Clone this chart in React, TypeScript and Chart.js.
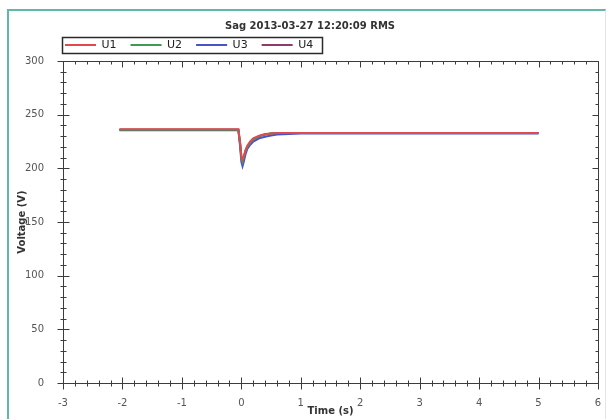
import React, { useEffect, useRef } from "react";
import { Chart, registerables } from "chart.js";

Chart.register(...registerables);

const chartTitle = "Sag 2013-03-27 12:20:09 RMS";
const seriesNames = ["U1", "U2", "U3", "U4"];
const seriesColors = ["#e04a4f", "#3f9a55", "#4a52c8", "#8e3a6c"];

const timeS = [-2.05, -1.5, -1.0, -0.5, -0.05, -0.02, 0.0, 0.02, 0.04, 0.07, 0.1, 0.15, 0.2, 0.3, 0.4, 0.5, 0.6, 1.0, 2.0, 3.0, 4.0, 5.0];
const u1 = [236.5, 236.5, 236.5, 236.5, 236.5, 224, 212, 208, 211, 217, 221, 225, 228, 230.5, 232, 232.5, 233, 233, 233, 233, 233, 233];
const u2 = [236, 236, 236, 236, 236, 222, 210, 206, 210, 216, 220, 224, 227, 230, 231.5, 232.5, 233, 233, 233, 233, 233, 233];
const u3 = [235.5, 235.5, 235.5, 235.5, 235.5, 220, 206, 202, 206, 213, 218, 222, 225, 228, 229.5, 230.5, 231.5, 232.5, 232.5, 232.5, 232.5, 232.5];
const u4 = [236, 236, 236, 236, 236, 223, 211, 207, 210, 216, 220, 224, 227, 230, 231.5, 232.5, 233, 233, 233, 233, 233, 233];
const seriesValues = [u1, u2, u3, u4];

const xMin = -3;
const xMax = 6;
const xMajorStep = 1;
const xMinorStep = 0.2;
const yMin = 0;
const yMax = 300;
const yMajorStep = 50;
const yMinorStep = 10;

const FONT = "'DejaVu Sans', Verdana, sans-serif";

const placePlugin = {
  id: "placeBlocks",
  afterLayout(chart: any) {
    const t = chart.titleBlock;
    if (t) {
      t.left = 10;
      t.right = 610;
    }
    const lg = chart.legend;
    if (lg) {
      const h = lg.bottom - lg.top;
      lg.left = 51;
      lg.right = 600;
      lg.top = 25.5;
      lg.bottom = 25.5 + Math.max(h, 36);
    }
  },
};

const framePlugin = {
  id: "axisFrame",
  afterDraw(chart: any) {
    const { ctx, chartArea, scales } = chart;
    const { left, right, top, bottom } = chartArea;
    const xs = scales.x;
    const ys = scales.y;
    ctx.save();
    ctx.strokeStyle = "#3c3c3c";
    ctx.lineWidth = 1;
    const L = Math.round(left) + 0.5;
    const R = Math.round(right) + 0.5;
    const T = Math.round(top) + 0.5;
    const B = Math.round(bottom) + 0.5;
    ctx.beginPath();
    ctx.rect(L, T, R - L, B - T);
    ctx.stroke();
    ctx.beginPath();
    const nx = Math.round((xMax - xMin) / xMinorStep);
    for (let i = 0; i <= nx; i++) {
      const v = xMin + i * xMinorStep;
      const major = Math.abs(v / xMajorStep - Math.round(v / xMajorStep)) < 1e-6;
      const px = Math.round(xs.getPixelForValue(v)) + 0.5;
      const len = major ? 6 : 3;
      ctx.moveTo(px, B - len);
      ctx.lineTo(px, B + len);
      ctx.moveTo(px, T);
      ctx.lineTo(px, T + len);
    }
    const ny = Math.round((yMax - yMin) / yMinorStep);
    for (let i = 0; i <= ny; i++) {
      const v = yMin + i * yMinorStep;
      const major = Math.abs(v / yMajorStep - Math.round(v / yMajorStep)) < 1e-6;
      const py = Math.round(ys.getPixelForValue(v)) + 0.5;
      const len = major ? 6 : 3;
      ctx.moveTo(L - len, py);
      ctx.lineTo(L + len, py);
      ctx.moveTo(R, py);
      ctx.lineTo(R - len, py);
    }
    ctx.stroke();

    const lg = chart.legend;
    if (lg && lg.legendHitBoxes && lg.legendHitBoxes.length) {
      const hb = lg.legendHitBoxes;
      const first = hb[0];
      const last = hb[hb.length - 1];
      const cy = first.top + first.height / 2;
      const x0 = Math.round(first.left - 3) + 0.5;
      const x1 = Math.round(last.left + last.width + 9) + 0.5;
      ctx.strokeStyle = "#2a2a2a";
      ctx.lineWidth = 1.5;
      ctx.strokeRect(x0, Math.round(cy - 8) + 0.5, x1 - x0, 16);
    }
    ctx.restore();
  },
};

export default function App() {
  const ref = useRef<HTMLCanvasElement | null>(null);
  useEffect(() => {
    document.body.style.overflow = "hidden";
    const canvas = ref.current;
    if (!canvas) return;
    const chart = new Chart(canvas, {
      type: "line",
      data: {
        datasets: seriesNames.map((name, i) => ({
          label: name,
          data: timeS.map((t, k) => ({ x: t, y: seriesValues[i][k] })),
          borderColor: seriesColors[i],
          backgroundColor: seriesColors[i],
          borderWidth: 2,
          pointRadius: 0,
          tension: 0,
          fill: false,
        })),
      },
      options: {
        responsive: false,
        animation: false,
        events: [],
        layout: { padding: { left: 0, right: 12, top: 0, bottom: 0 } },
        scales: {
          x: {
            type: "linear",
            min: xMin,
            max: xMax,
            grid: { display: false },
            border: { display: false },
            ticks: {
              stepSize: xMajorStep,
              padding: 6,
              color: "#555",
              font: { family: FONT, size: 10 },
              maxRotation: 0,
            },
            title: {
              display: true,
              text: "Time (s)",
              color: "#333",
              font: { family: FONT, size: 10, weight: "bold" },
              padding: { top: 0, bottom: 2 },
            },
            afterFit: (s: any) => {
              s.height = 36;
            },
          },
          y: {
            type: "linear",
            min: yMin,
            max: yMax,
            grid: { display: false },
            border: { display: false },
            ticks: {
              stepSize: yMajorStep,
              padding: 11,
              color: "#555",
              font: { family: FONT, size: 10 },
            },
            title: {
              display: true,
              text: "Voltage (V)",
              color: "#333",
              font: { family: FONT, size: 10, weight: "bold" },
              padding: { top: 16, bottom: 0 },
            },
            afterFit: (s: any) => {
              s.width = 63;
            },
          },
        },
        plugins: {
          title: {
            display: true,
            text: chartTitle,
            color: "#333",
            font: { family: FONT, size: 10, weight: "bold" },
            padding: { top: 20, bottom: 9 },
          },
          legend: {
            display: true,
            position: "top",
            align: "start",
            maxHeight: 20,
            labels: {
              usePointStyle: true,
              pointStyle: "line",
              pointStyleWidth: 31,
              padding: 14,
              color: "#222",
              font: { family: FONT, size: 11 },
            },
          },
          tooltip: { enabled: false },
        },
      } as any,
      plugins: [placePlugin, framePlugin],
    });
    return () => chart.destroy();
  }, []);

  return (
    <div style={{ position: "absolute", left: 0, top: 0, width: 610, height: 419, background: "#fff" }}>
      <div
        style={{
          position: "absolute",
          left: 7,
          top: 9,
          width: 599,
          height: 410,
          borderLeft: "2px solid #5fb9a6",
          borderTop: "2px solid #5fb9a6",
          borderRight: "1px solid #e4e4e4",
          boxSizing: "border-box",
        }}
      />
      <canvas ref={ref} width={610} height={419} style={{ position: "absolute", left: 0, top: 0, width: 610, height: 419 }} />
    </div>
  );
}
